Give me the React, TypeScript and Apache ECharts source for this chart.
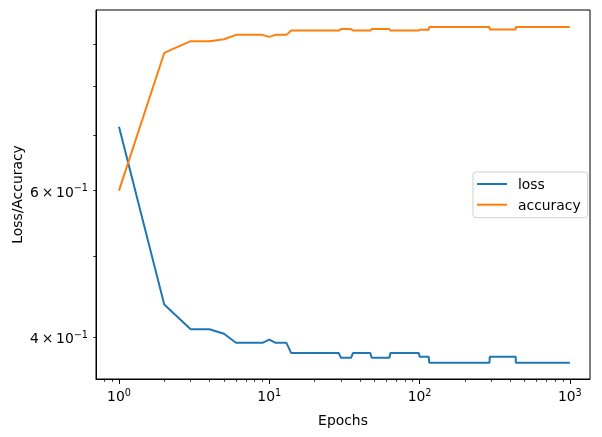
import React, { useEffect, useRef } from "react";
import * as echarts from "echarts";

const epochs = [1, 2, 3, 4, 5, 6, 9, 10, 11, 13, 14, 29, 30, 35, 36, 47, 48, 63, 64, 99, 100, 115, 116, 292, 293, 436, 437, 1000];
const lossValues = [0.716, 0.438, 0.409, 0.409, 0.404, 0.394, 0.394, 0.3975, 0.394, 0.394, 0.383, 0.383, 0.378, 0.378, 0.383, 0.383, 0.378, 0.378, 0.383, 0.383, 0.379, 0.379, 0.373, 0.373, 0.379, 0.379, 0.373, 0.373];
const accuracyValues = [0.6, 0.878, 0.907, 0.907, 0.912, 0.923, 0.923, 0.918, 0.923, 0.923, 0.934, 0.934, 0.938, 0.938, 0.934, 0.934, 0.938, 0.938, 0.934, 0.934, 0.936, 0.936, 0.943, 0.943, 0.937, 0.937, 0.943, 0.943];

const xMajorTicks = [1, 10, 100, 1000];
const xMinorTicks = [0.8, 0.9, 2, 3, 4, 5, 6, 7, 8, 9, 20, 30, 40, 50, 60, 70, 80, 90, 200, 300, 400, 500, 600, 700, 800, 900];
const yTicks = [0.4, 0.5, 0.6, 0.7, 0.8, 0.9];
const yLabelTicks = [0.4, 0.6];

const FONT = "DejaVu Sans";
const FS = 13.9;

export default function App() {
  const ref = useRef<HTMLDivElement>(null);
  useEffect(() => {
    const chart = echarts.init(ref.current!, null, { renderer: "svg" });
    const rich = {
      b: { fontSize: FS, fontFamily: FONT, color: "#000", verticalAlign: "bottom" },
      s: { fontSize: 9.7, fontFamily: FONT, color: "#000", verticalAlign: "bottom", padding: [0, 0, 6, 0] },
    };
    const xMin = Math.pow(10, -0.153);
    const xMax = Math.pow(10, 3.134);
    const yMin = 0.3565;
    const yMax = 0.9887;
    chart.setOption({
      animation: false,
      textStyle: { fontFamily: FONT },
      grid: {
        left: 96,
        top: 10,
        width: 494,
        height: 369,
        containLabel: false,
        outerBoundsMode: "none",
        show: true,
        borderColor: "#000",
        borderWidth: 1,
        backgroundColor: "transparent",
      },
      legend: {
        orient: "vertical",
        left: 473,
        top: 172,
        padding: [5, 7, 6, 4],
        itemGap: 6.7,
        itemWidth: 30,
        itemHeight: 2,
        icon: "rect",
        backgroundColor: "#fff",
        borderColor: "#d0d0d0",
        borderWidth: 1,
        borderRadius: 3,
        textStyle: { fontFamily: FONT, fontSize: FS, color: "#000", padding: [0, 0, 0, 6] },
        data: ["loss", "accuracy"],
      },
      xAxis: [
        {
          type: "log",
          position: "bottom",
          min: xMin,
          max: xMax,
          name: "Epochs",
          nameLocation: "middle",
          nameGap: 34,
          nameMoveOverlap: false,
          nameTextStyle: { fontFamily: FONT, fontSize: FS, color: "#000" },
          axisLine: { show: true, lineStyle: { color: "#000", width: 1 } },
          axisTick: { show: true, length: 4.9, lineStyle: { color: "#000", width: 1 }, customValues: xMajorTicks },
          axisLabel: {
            customValues: xMajorTicks,
            margin: 8,
            formatter: (v: number) => `{b|10}{s|${Math.round(Math.log10(v))}}`,
            rich,
          },
          splitLine: { show: false },
          minorTick: { show: false },
        },
        {
          type: "log",
          position: "bottom",
          gridIndex: 0,
          min: xMin,
          max: xMax,
          axisLine: { show: false },
          axisTick: { show: true, length: 2.8, lineStyle: { color: "#000", width: 0.8 }, customValues: xMinorTicks },
          axisLabel: { show: false },
          splitLine: { show: false },
        },
      ],
      yAxis: {
        type: "log",
        min: yMin,
        max: yMax,
        name: "Loss/Accuracy",
        nameLocation: "middle",
        nameGap: 72,
        nameMoveOverlap: false,
        nameTextStyle: { fontFamily: FONT, fontSize: FS, color: "#000" },
        axisLine: { show: true, lineStyle: { color: "#000", width: 1 } },
        axisTick: { show: true, length: 2.8, lineStyle: { color: "#000", width: 0.8 }, customValues: yTicks },
        axisLabel: {
          customValues: yLabelTicks,
          margin: 8,
          formatter: (v: number) => {
            const e = Math.floor(Math.log10(v) + 1e-9);
            const m = Math.round(v / Math.pow(10, e));
            return `{b|${m}\u2009×\u200910}{s|${e < 0 ? "\u2212" + -e : e}}`;
          },
          rich,
        },
        splitLine: { show: false },
      },
      series: [
        {
          name: "loss",
          type: "line",
          xAxisIndex: 0,
          data: epochs.map((e, i) => [e, lossValues[i]]),
          showSymbol: false,
          symbol: "none",
          lineStyle: { color: "#1f77b4", width: 2 },
          itemStyle: { color: "#1f77b4" },
        },
        {
          name: "accuracy",
          type: "line",
          xAxisIndex: 0,
          data: epochs.map((e, i) => [e, accuracyValues[i]]),
          showSymbol: false,
          symbol: "none",
          lineStyle: { color: "#ff7f0e", width: 2 },
          itemStyle: { color: "#ff7f0e" },
        },
      ],
    });
    return () => chart.dispose();
  }, []);
  return <div ref={ref} style={{ position: "fixed", left: 0, top: 0, width: 602, height: 437 }} />;
}
